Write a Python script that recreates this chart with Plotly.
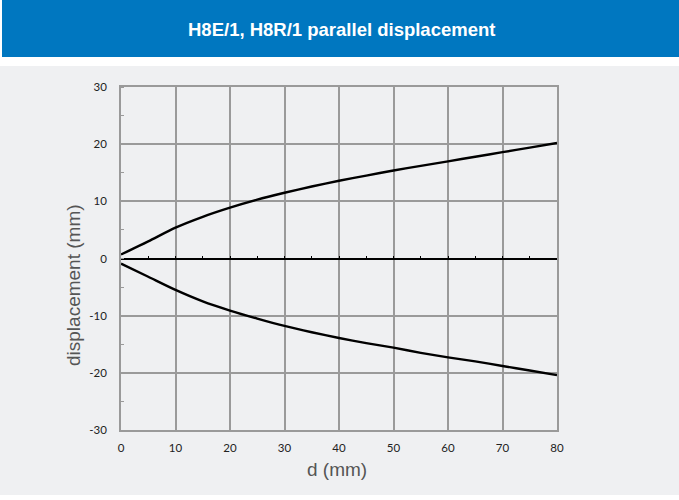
import plotly.graph_objects as go

d_mm = [0, 5, 10, 15, 20, 25, 30, 35, 40, 45, 50, 55, 60, 65, 70, 75, 80]
upper = [0.7, 3.0, 5.4, 7.3, 8.9, 10.3, 11.5, 12.6, 13.6, 14.5, 15.4, 16.2, 17.0, 17.8, 18.6, 19.4, 20.2]
lower = [-0.9, -3.2, -5.5, -7.5, -9.1, -10.5, -11.8, -12.9, -13.9, -14.8, -15.6, -16.5, -17.3, -18.0, -18.8, -19.6, -20.4]
x_ticks = [0, 10, 20, 30, 40, 50, 60, 70, 80]
y_ticks = [-30, -20, -10, 0, 10, 20, 30]
y_ticklabels = ["-30", "-20", "-10", "0", "10", "20", "30"]
title_text = "H8E/1, H8R/1 parallel displacement"
x_title = "d (mm)"
y_title = "displacement (mm)"

W, H = 679, 500
L, R, T, B = 121, 122, 87, 70
PW, PH = W - L - R, H - T - B


def px(xp):
    return (xp - L) / PW


def py(yp):
    return (H - B - yp) / PH


GRAY = "#eff0f2"
BLUE = "#0077c0"
GRID = "#9a9a9a"

fig = go.Figure()
for ys in (upper, lower):
    fig.add_trace(go.Scatter(x=d_mm, y=ys, mode="lines", line=dict(color="black", width=2.4, shape="spline", smoothing=0.8),
                             showlegend=False, hoverinfo="skip"))

fig.update_layout(
    width=W, height=H,
    margin=dict(l=L, r=R, t=T, b=B, pad=0),
    paper_bgcolor="white",
    plot_bgcolor=GRAY,
    font=dict(family="Lato, Open Sans, sans-serif", size=11, color="#222"),
    xaxis=dict(range=[0, 80], tickmode="array", tickvals=x_ticks, showgrid=True, gridcolor=GRID, gridwidth=1.5,
               showline=True, mirror=True, linecolor=GRID, linewidth=1.5, zeroline=False,
               ticks="outside", ticklen=6, tickcolor="rgba(0,0,0,0)", tickfont=dict(size=11.5, color="#222")),
    yaxis=dict(range=[-30, 30], tickmode="array", tickvals=y_ticks, ticktext=y_ticklabels,
               showgrid=True, gridcolor=GRID, gridwidth=1.5,
               showline=True, mirror=True, linecolor=GRID, linewidth=1.5,
               zeroline=True, zerolinecolor="black", zerolinewidth=1.8,
               ticks="outside", ticklen=10, tickcolor="rgba(0,0,0,0)", tickfont=dict(size=11.5, color="#222")),
    xaxis2=dict(range=[0, 80], overlaying="x", anchor="free", position=0.5, side="bottom",
                showgrid=False, zeroline=False, showline=False, showticklabels=False,
                tickmode="linear", tick0=0, dtick=5, ticks="inside", ticklen=3, tickcolor="black", tickwidth=1.2),
)
fig.update_yaxes(minor=dict(ticks="inside", dtick=5, tick0=5, ticklen=3, tickcolor=GRID, showgrid=False))
fig.add_trace(go.Scatter(x=[0, 80], y=[0, 0], xaxis="x2", mode="lines", line=dict(color="rgba(0,0,0,0)"),
                         showlegend=False, hoverinfo="skip"))

fig.update_layout(shapes=[
    dict(type="rect", xref="paper", yref="paper", x0=px(0), x1=px(W), y0=py(495), y1=py(66),
         fillcolor=GRAY, line=dict(width=0), layer="below"),
    dict(type="rect", xref="paper", yref="paper", x0=px(2), x1=px(W), y0=py(57), y1=py(0),
         fillcolor=BLUE, line=dict(width=0), layer="below"),
])

fig.update_layout(annotations=[
    dict(text=title_text, xref="paper", yref="paper", x=px(341), y=py(29), showarrow=False,
         font=dict(family="Liberation Sans, Arial, sans-serif", size=18.5, color="white", weight="bold"),
         xanchor="center", yanchor="middle"),
    dict(text=x_title, xref="paper", yref="paper", x=px(337), y=py(469), showarrow=False,
         font=dict(family="Liberation Sans, Arial, sans-serif", size=19, color="#555"), xanchor="center", yanchor="middle"),
    dict(text=y_title, xref="paper", yref="paper", x=px(73), y=py(285), showarrow=False, textangle=-90,
         font=dict(family="Liberation Sans, Arial, sans-serif", size=19, color="#555"), xanchor="center", yanchor="middle"),
])

fig.write_html("out.html", config={"displayModeBar": False}, post_script="document.body.style.margin='0';")
